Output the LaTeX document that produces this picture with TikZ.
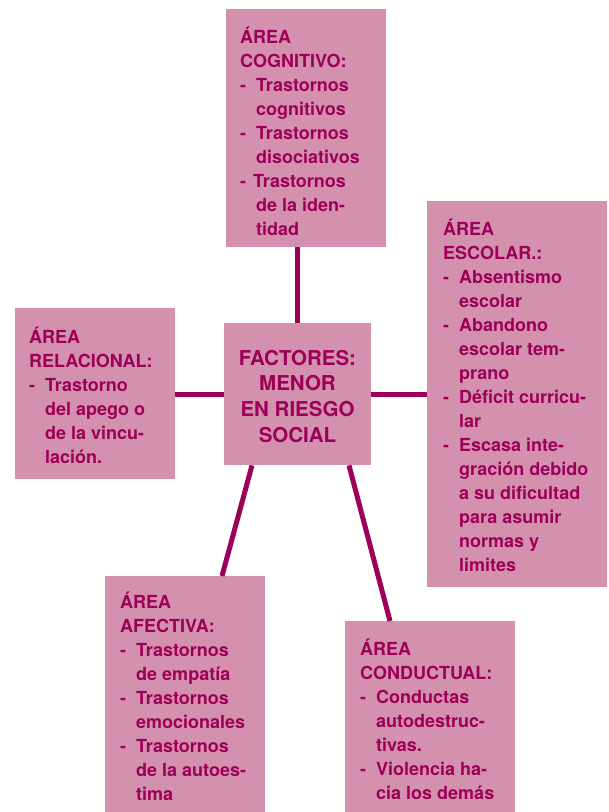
\documentclass[tikz,border=0pt]{standalone}
\usepackage{fontspec}
\setmainfont{TeX Gyre Heros}
\definecolor{boxfill}{RGB}{211,145,173}
\definecolor{ink}{RGB}{158,0,89}
\newcommand\itm{\makebox[16pt][l]{-}}
\newcommand\ind{\hspace*{16pt}}
\newcommand\fst{\rule{0pt}{17pt}}
\tikzset{
  area/.style={fill=boxfill, inner sep=0pt, anchor=north west},
  txt/.style={inner sep=0pt, anchor=north west, align=left, text=ink,
    font=\bfseries\fontsize{18}{24}\selectfont},
  link/.style={draw=ink, line width=5pt},
}
\begin{document}
\begin{tikzpicture}[x=1pt,y=-1pt]
\useasboundingbox (0,0) rectangle (609,812);
% boxes
\node[area, minimum width=160pt, minimum height=238pt] (cog) at (226,9) {};
\node[area, minimum width=180pt, minimum height=386pt] (esc) at (427,201) {};
\node[area, minimum width=160pt, minimum height=171pt] (rel) at (15,308) {};
\node[area, minimum width=147pt, minimum height=142pt] (cen) at (224,323) {};
\node[area, minimum width=160pt, minimum height=236pt] (afe) at (105,576) {};
\node[area, minimum width=170pt, minimum height=191pt] (con) at (345,621) {};
% connectors
\draw[link] (cen.north) -- (cen.north |- cog.south);
\draw[link] (cen.west) -- (cen.west -| rel.east);
\draw[link] (cen.east) -- (cen.east -| esc.west);
\draw[link] ([xshift=28pt]cen.south west) -- ([xshift=117pt]afe.north west);
\draw[link] ([xshift=125pt]cen.south west) -- ([xshift=45pt]con.north west);
% texts
\node[txt] (cogt) at (240,26) {\fst ÁREA\\COGNITIVO:\\\itm Trastornos\\\ind cognitivos\\\itm Trastornos\\\ind disociativos\\\makebox[13pt][l]{-}Trastornos\\\ind de la iden-\\\ind tidad};
\node[txt] (esct) at (443,218) {\fst ÁREA\\ESCOLAR.:\\\itm Absentismo\\\ind escolar\\\itm Abandono\\\ind escolar tem-\\\ind prano\\\itm Déficit curricu-\\\ind lar\\\itm Escasa inte-\\\ind gración debido\\\ind a su dificultad\\\ind para asumir\\\ind normas y\\\ind limites};
\node[txt] (relt) at (29,326) {\fst ÁREA\\RELACIONAL:\\\itm Trastorno\\\ind del apego o\\\ind de la vincu-\\\ind lación.};
\node[txt] (afet) at (120,591) {\fst ÁREA\\AFECTIVA:\\\itm Trastornos\\\ind de empatía\\\itm Trastornos\\\ind emocionales\\\itm Trastornos\\\ind de la autoes-\\\ind tima};
\node[txt] (cont) at (360,638) {\fst ÁREA\\CONDUCTUAL:\\\itm Conductas\\\ind autodestruc-\\\ind tivas.\\\itm Violencia ha-\\\ind cia los demás};
\node[inner sep=0pt, anchor=north, align=center, text=ink,
  font=\bfseries\fontsize{20.5}{25.7}\selectfont] (cent) at (297.5,346)
  {\rule{0pt}{19pt}FACTORES:\\MENOR\\EN RIESGO\\SOCIAL};
\end{tikzpicture}
\end{document}
